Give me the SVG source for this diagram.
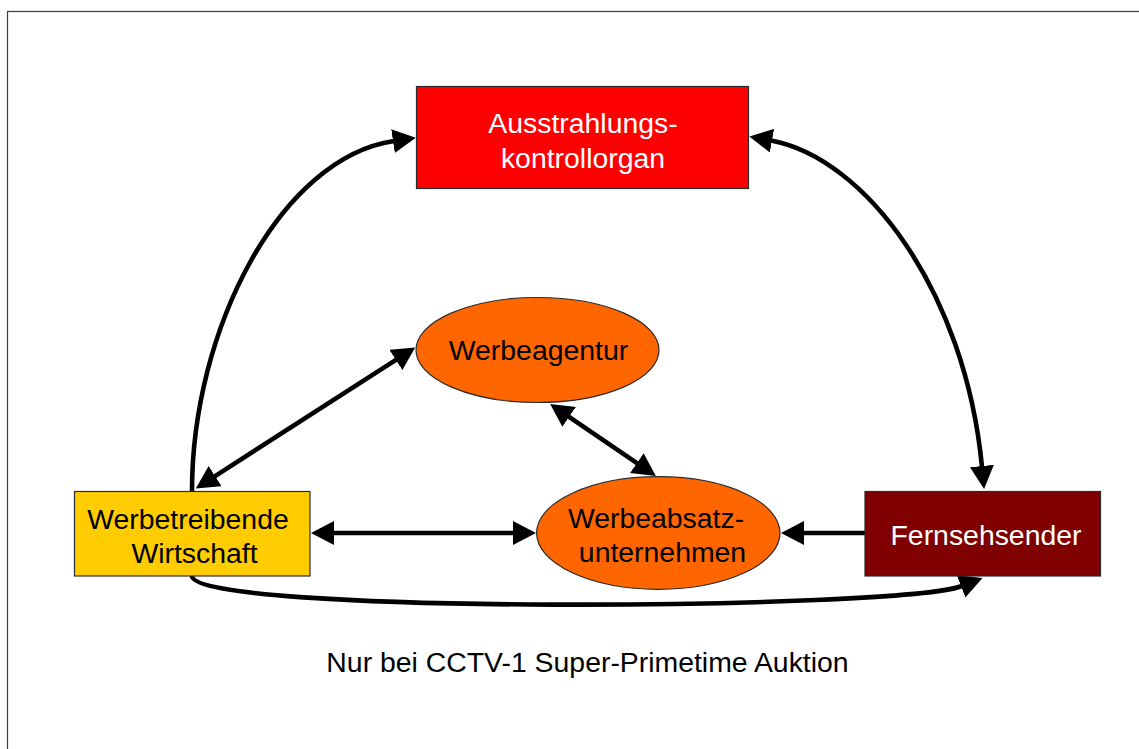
<svg xmlns="http://www.w3.org/2000/svg" width="1139" height="749" viewBox="0 0 1139 749">
  <style>
    .frame { fill: #ffffff; stroke: #3c3c3c; stroke-width: 1.2; }
    .node { stroke: #2a2a2a; stroke-width: 1.2; }
    .label { font-family: "Liberation Sans", Arial, sans-serif; font-size: 28.4px; text-anchor: middle; }
    .dark { fill: #000000; }
    .light { fill: #ffffff; }
    .link { fill: none; stroke: #000000; stroke-width: 4.6; }
    .one { marker-end: url(#head); }
    .two { marker-start: url(#head); marker-end: url(#head); }
  </style>
  <defs>
    <marker id="head" viewBox="0 0 23 24" markerWidth="23" markerHeight="24" markerUnits="userSpaceOnUse" refX="1" refY="12" orient="auto-start-reverse">
      <path d="M0,0 L23,12 L0,24 z" fill="#000000"/>
    </marker>
  </defs>

  <rect class="frame" x="7.5" y="11.5" width="1145" height="760"/>

  <g id="connectors">
    <!-- Werbetreibende Wirtschaft -> Ausstrahlungskontrollorgan -->
    <path class="link one" d="M192,491 C192,330 280,158 394,141"/>
    <!-- Ausstrahlungskontrollorgan <-> Fernsehsender -->
    <path class="link two" d="M771,140.5 C865,158 965,290 982,467"/>
    <!-- Werbeagentur <-> Werbetreibende Wirtschaft -->
    <path class="link two" d="M396.7,359.4 L214.3,476.6"/>
    <!-- Werbeagentur <-> Werbeabsatzunternehmen -->
    <path class="link two" d="M568.3,416.3 L637.7,463.7"/>
    <!-- Werbetreibende Wirtschaft <-> Werbeabsatzunternehmen -->
    <path class="link two" d="M333,533 L514,533"/>
    <!-- Fernsehsender -> Werbeabsatzunternehmen -->
    <path class="link one" d="M865,533 L803,533"/>
    <!-- Werbetreibende Wirtschaft -> Fernsehsender -->
    <path class="link one" d="M192,576 C192,615 900,610 962,586"/>
  </g>

  <g id="kontrollorgan">
    <rect class="node" x="416.5" y="86.5" width="332" height="102" fill="#ff0000"/>
    <text class="label light" x="583" y="133">Ausstrahlungs-</text>
    <text class="label light" x="583" y="168">kontrollorgan</text>
  </g>

  <g id="werbeagentur">
    <ellipse class="node" cx="537.5" cy="350" rx="121.5" ry="52.5" fill="#ff6600"/>
    <text class="label dark" x="538.5" y="360">Werbeagentur</text>
  </g>

  <g id="werbetreibende">
    <rect class="node" x="74.5" y="491.5" width="235.5" height="84.5" fill="#ffcc00"/>
    <text class="label dark" x="188" y="529">Werbetreibende</text>
    <text class="label dark" x="194.5" y="563">Wirtschaft</text>
  </g>

  <g id="werbeabsatz">
    <ellipse class="node" cx="658.3" cy="533" rx="121.7" ry="56.3" fill="#ff6600"/>
    <text class="label dark" x="656" y="528">Werbeabsatz-</text>
    <text class="label dark" x="662.5" y="562">unternehmen</text>
  </g>

  <g id="fernsehsender">
    <rect class="node" x="865" y="491.5" width="235.5" height="84.5" fill="#800000"/>
    <text class="label light" x="986" y="545">Fernsehsender</text>
  </g>

  <text class="label dark" x="587.5" y="672">Nur bei CCTV-1 Super-Primetime Auktion</text>
</svg>
